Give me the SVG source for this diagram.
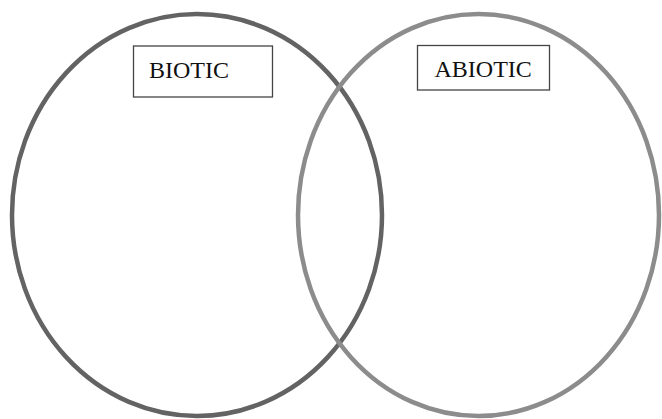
<svg xmlns="http://www.w3.org/2000/svg" width="662" height="419" viewBox="0 0 662 419">
<style>
.ring{fill:none;stroke-width:4.5}
.box{fill:#fff;stroke:#444;stroke-width:1.3}
.lbl{font-family:"Liberation Serif","Times New Roman",serif;font-size:24px;fill:#111}
</style>
<rect width="662" height="419" fill="#fff"/>
<g id="biotic">
<ellipse class="ring" cx="197" cy="215" rx="185" ry="201" stroke="#636363"/>
</g>
<g id="abiotic">
<ellipse class="ring" cx="478.5" cy="215" rx="180.5" ry="201" stroke="#8c8c8c"/>
</g>
<g id="biotic-label">
<rect class="box" x="133.5" y="46" width="139" height="51"/>
<text class="lbl" x="149" y="77.5">BIOTIC</text>
</g>
<g id="abiotic-label">
<rect class="box" x="417.5" y="45.5" width="132" height="44.5"/>
<text class="lbl" x="434.5" y="77">ABIOTIC</text>
</g>
<g id="connectors"></g>
</svg>
